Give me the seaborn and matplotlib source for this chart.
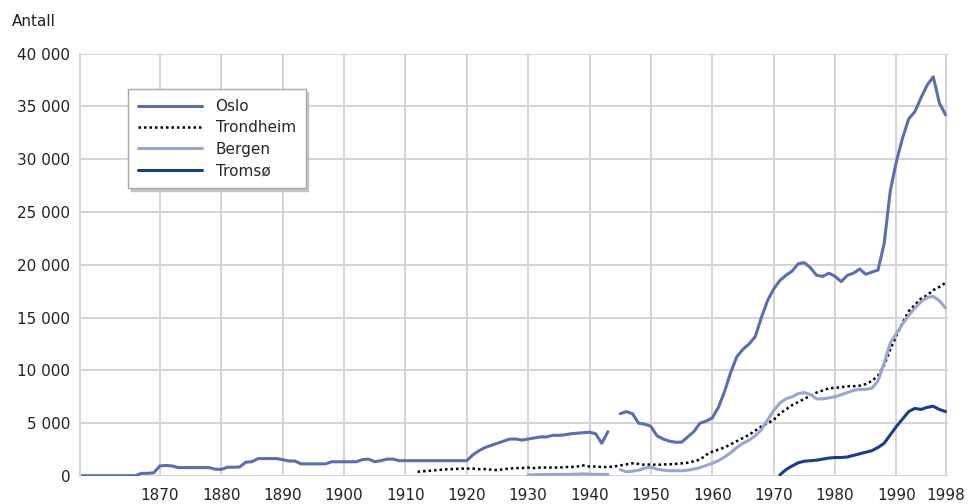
import numpy as np
import pandas as pd
import matplotlib.pyplot as plt
import seaborn as sns
from matplotlib.ticker import FuncFormatter

nan = np.nan

# Values (antall per year)
oslo_years = list(range(1857, 1999))
oslo = [30, 30, 30, 30, 30, 30, 30, 30, 30, 30,
        250, 250, 300,
        950, 1000, 950, 800, 800, 800, 800, 800, 800, 650,
        620, 830, 830, 850, 1300, 1350, 1650, 1650, 1650, 1650,
        1550, 1420, 1420, 1150, 1150, 1150, 1150, 1150, 1350, 1350,
        1350, 1350, 1350, 1550, 1600, 1350, 1450, 1600, 1600, 1450,
        1450, 1450, 1450, 1450, 1450, 1450, 1450, 1450, 1450, 1450,
        1450, 2000, 2400, 2700, 2900, 3100, 3300, 3500, 3500, 3400,
        3500, 3600, 3700, 3700, 3850, 3850, 3900, 4000, 4050, 4100,
        4150, 4000, 3100, 4200, nan, 5900, 6100, 5900, 5000, 4900,
        4700, 3800, 3500, 3300, 3200, 3200, 3700, 4200, 5000, 5200,
        5500, 6500, 8000, 9800, 11300, 12000, 12500, 13200, 15000, 16600,
        17700, 18500, 19000, 19400, 20100, 20200, 19700, 19000, 18900, 19200,
        18900, 18400, 19000, 19200, 19600, 19100, 19300, 19500, 22000, 27000,
        29800, 32000, 33800, 34500, 35800, 37000, 37800, 35300, 34200]

trondheim_years = list(range(1912, 1999))
trondheim = [400, 450, 500, 550, 600, 650, 650, 700,
             700, 700, 650, 650, 600, 550, 650, 700, 750, 750,
             800, 750, 800, 800, 800, 800, 850, 850, 900, 1000,
             900, 900, 850, 850, 900, 1000, 1100, 1200, 1150, 1050,
             1100, 1050, 1100, 1100, 1150, 1200, 1250, 1400, 1550, 2000,
             2300, 2500, 2700, 3000, 3300, 3600, 3900, 4300, 4700, 5000,
             5300, 5900, 6300, 6700, 7000, 7300, 7600, 7900, 8100, 8300,
             8350, 8400, 8500, 8500, 8550, 8700, 9000, 9500, 10500, 12000,
             13300, 14500, 15600, 16200, 16800, 17100, 17600, 17900, 18300]

bergen_years = list(range(1930, 1999))
bergen = [100, 120, 130, 130, 150, 150, 150, 160, 180, 200,
          170, 160, 150, 150, nan, 600, 400, 450, 550, 750,
          850, 650, 550, 500, 500, 500, 550, 650, 800, 1000,
          1200, 1450, 1800, 2200, 2700, 3100, 3400, 3800, 4400, 5300,
          6200, 6900, 7300, 7500, 7800, 7900, 7700, 7300, 7300, 7400,
          7500, 7700, 7900, 8100, 8200, 8200, 8300, 9000, 10700, 12600,
          13500, 14400, 15200, 15900, 16500, 16900, 17000, 16600, 15900]

tromso_years = list(range(1971, 1999))
tromso = [100, 600, 950, 1250, 1400, 1450, 1500, 1600, 1700,
          1750, 1750, 1800, 1950, 2100, 2250, 2400, 2700, 3100, 3900,
          4700, 5400, 6100, 6400, 6300, 6500, 6600, 6300, 6100]

x_ticks = [1870, 1880, 1890, 1900, 1910, 1920, 1930, 1940, 1950,
           1960, 1970, 1980, 1990, 1998]


def to_frame(years, values):
    df = pd.DataFrame({"year": years, "antall": values})
    # split into segments where a year is missing so the line breaks there
    df["seg"] = df["antall"].isna().cumsum()
    return df.dropna()


sns.set_style("white")
plt.rcParams["font.family"] = ["DejaVu Sans"]

fig = plt.figure(figsize=(9.71, 5.04), dpi=100)
ax = fig.add_axes([80 / 971, 28 / 504, 868 / 971, 422.5 / 504])

series = [
    ("Oslo", oslo_years, oslo, "#5b6fae", "-", 2.2),
    ("Trondheim", trondheim_years, trondheim, "#000000", (0, (1, 1.2)), 1.8),
    ("Bergen", bergen_years, bergen, "#9ba6cf", "-", 2.2),
    ("Tromsø", tromso_years, tromso, "#1c3c8c", "-", 2.2),
]
for name, yrs, vals, col, ls, lw in series:
    df = to_frame(yrs, vals)
    sns.lineplot(data=df, x="year", y="antall", units="seg", estimator=None,
                 color=col, linewidth=lw, linestyle=ls, ax=ax, label=name)

ax.set_xlim(1857, 1998.4)
ax.set_ylim(0, 40000)
ax.set_xticks(x_ticks)
ax.set_yticks(range(0, 40001, 5000))
ax.yaxis.set_major_formatter(FuncFormatter(lambda v, p: f"{int(v):,}".replace(",", " ")))
ax.grid(True, color="#d4d4d4", linewidth=1.4)
ax.set_axisbelow(True)
ax.tick_params(length=0, labelsize=11, colors="#222222")
ax.tick_params(axis="y", pad=7)
ax.tick_params(axis="x", pad=9)
ax.set_xlabel("")
ax.set_ylabel("")
for side in ["top", "right", "bottom"]:
    ax.spines[side].set_visible(False)
ax.spines["left"].set_color("#d4d4d4")
ax.spines["left"].set_linewidth(1.4)

# one legend entry per city (segments share a label)
handles, labels = ax.get_legend_handles_labels()
uniq = {}
for h, l in zip(handles, labels):
    uniq.setdefault(l, h)

leg = ax.legend(list(uniq.values()), list(uniq.keys()),
                loc="upper left", bbox_to_anchor=(0.055, 0.916), fontsize=11,
                frameon=True, fancybox=False, shadow={"color": "#c4c4c4", "alpha": 1},
                handlelength=4.2, labelspacing=0.42, borderpad=0.65,
                handletextpad=0.9, borderaxespad=0)
leg.get_frame().set_edgecolor("#a8a8a8")
leg.get_frame().set_linewidth(1.0)

fig.text(12 / 971, 1 - 22 / 504, "Antall", fontsize=11, va="center", color="#222222")

fig.savefig("out.png", dpi=100)
